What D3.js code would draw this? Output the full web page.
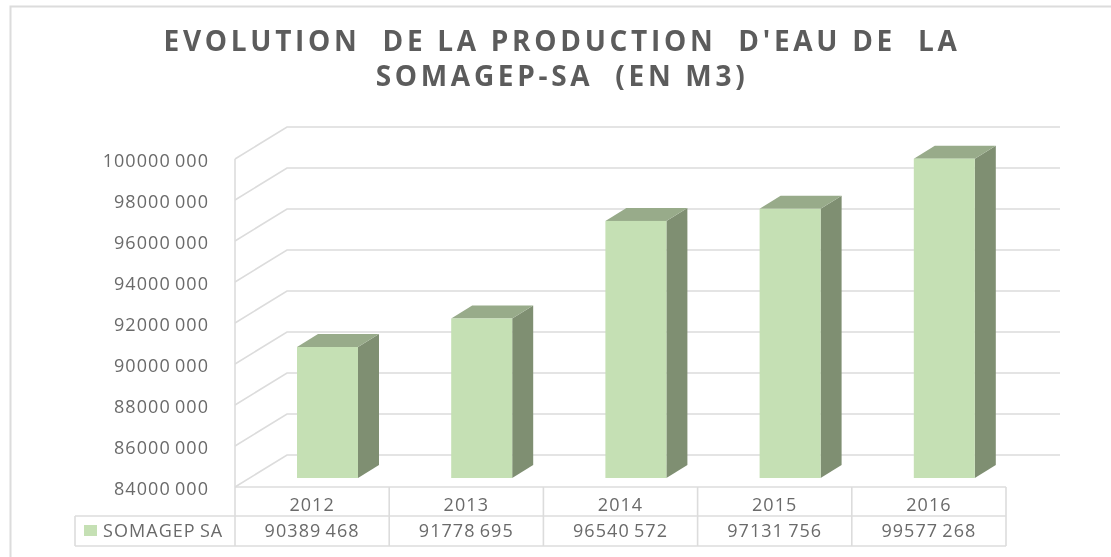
<!DOCTYPE html>
<html><head><meta charset="utf-8">
<script src="https://cdnjs.cloudflare.com/ajax/libs/d3/7.8.5/d3.min.js"></script>
<style>html,body{margin:0;background:#fff}svg{display:block;filter:blur(0.35px)}text{font-family:"Open Sans",sans-serif}</style>
</head><body><svg width="1111" height="557"></svg>
<script>
const categories = ["2012","2013","2014","2015","2016"];
const values = [90389468,91778695,96540572,97131756,99577268];
const seriesName = "SOMAGEP SA";
const yTicks = [84000000,86000000,88000000,90000000,92000000,94000000,96000000,98000000,100000000];
const titleLines = ["EVOLUTION  DE LA PRODUCTION  D'EAU DE  LA","SOMAGEP-SA  (EN M3)"];

const fmt = v => { const s = String(v); return s.slice(0,-3)+" "+s.slice(-3); };
const gridC="#dcdcdc", textC="#6a6a6a";
const svg=d3.select("svg");
const y=d3.scaleLinear().domain([84000000,100000000]).range([487,159]);
const x=d3.scaleBand().domain(categories).range([235,1006]);
const dx=52, dy=-32;         // wall depth
const barDx=21, barDy=-13;   // bar depth
const barInset=62, barW=61, barLift=9;
const labelStyle=s=>s.attr("font-size",18).attr("letter-spacing",1.05).attr("word-spacing",-1.5).attr("fill",textC);

// chart frame
svg.append("path").attr("d","M10.5,557 V6.5 H1111").attr("fill","none").attr("stroke",gridC).attr("stroke-width",2);

// title
svg.append("g").selectAll("text").data(titleLines).join("text")
  .attr("x",562).attr("y",(d,i)=>51+i*35).attr("text-anchor","middle")
  .attr("font-size",28).attr("font-weight",700).attr("letter-spacing",3.7).attr("fill","#5c5c5c")
  .style("white-space","pre").text(d=>d);

// walls
const grid=svg.append("g").attr("fill","none").attr("stroke",gridC).attr("stroke-width",1.6);
grid.selectAll("path").data(yTicks).join("path")
  .attr("d",v=>`M${x.range()[0]},${y(v)} L${x.range()[0]+dx},${y(v)+dy} H1060`);
grid.append("line").attr("x1",235).attr("x2",235).attr("y1",y(100000000)).attr("y2",y(84000000));

// y axis
const yAxis=d3.axisLeft(y).tickValues(yTicks).tickFormat(fmt).tickSize(0).tickPadding(26);
const gy=svg.append("g").attr("transform","translate(235,1.5)").call(yAxis);
gy.select(".domain").remove();
gy.selectAll("text").call(labelStyle).style("font-family",'"Open Sans",sans-serif');

// bars
const bars=svg.append("g").selectAll("g").data(categories.map((c,i)=>({c,v:values[i]}))).join("g");
const bx=d=>x(d.c)+barInset, tY=d=>y(d.v)-barLift, bY=y(84000000)-barLift;
bars.append("path").attr("fill","#7f8f72")
  .attr("d",d=>`M${bx(d)+barW},${tY(d)} l${barDx},${barDy} V${bY+barDy} l${-barDx},${-barDy} Z`);
bars.append("path").attr("fill","#98ab8a")
  .attr("d",d=>`M${bx(d)},${tY(d)} l${barDx},${barDy} h${barW} l${-barDx},${-barDy} Z`);
bars.append("rect").attr("fill","#c5e0b4")
  .attr("x",bx).attr("y",tY).attr("width",barW).attr("height",d=>bY-tY(d));

// data table
const rowY=[487,516,546], tableLeft=75;
const t=svg.append("g");
const tl=t.append("g").attr("stroke",gridC).attr("stroke-width",1.6).attr("fill","none");
tl.append("line").attr("x1",235).attr("x2",1006).attr("y1",rowY[0]).attr("y2",rowY[0]);
tl.append("line").attr("x1",tableLeft).attr("x2",1006).attr("y1",rowY[1]).attr("y2",rowY[1]);
tl.append("line").attr("x1",tableLeft).attr("x2",1006).attr("y1",rowY[2]).attr("y2",rowY[2]);
tl.append("line").attr("x1",tableLeft).attr("x2",tableLeft).attr("y1",rowY[1]).attr("y2",rowY[2]);
tl.selectAll(".v").data(categories.concat("end")).join("line").attr("class","v")
  .attr("x1",(d,i)=>235+i*x.step()).attr("x2",(d,i)=>235+i*x.step()).attr("y1",rowY[0]).attr("y2",rowY[2]);
t.selectAll(".h").data(categories).join("text").attr("class","h")
  .attr("x",d=>x(d)+x.bandwidth()/2).attr("y",511).attr("text-anchor","middle")
  .call(labelStyle).text(d=>d);
t.selectAll(".r").data(values).join("text").attr("class","r")
  .attr("x",(d,i)=>x(categories[i])+x.bandwidth()/2).attr("y",537).attr("text-anchor","middle")
  .call(labelStyle).text(fmt);
t.append("rect").attr("x",84).attr("y",525).attr("width",13).attr("height",11).attr("fill","#c5e0b4");
t.append("text").attr("x",103).attr("y",537).call(labelStyle).text(seriesName);
</script></body></html>
